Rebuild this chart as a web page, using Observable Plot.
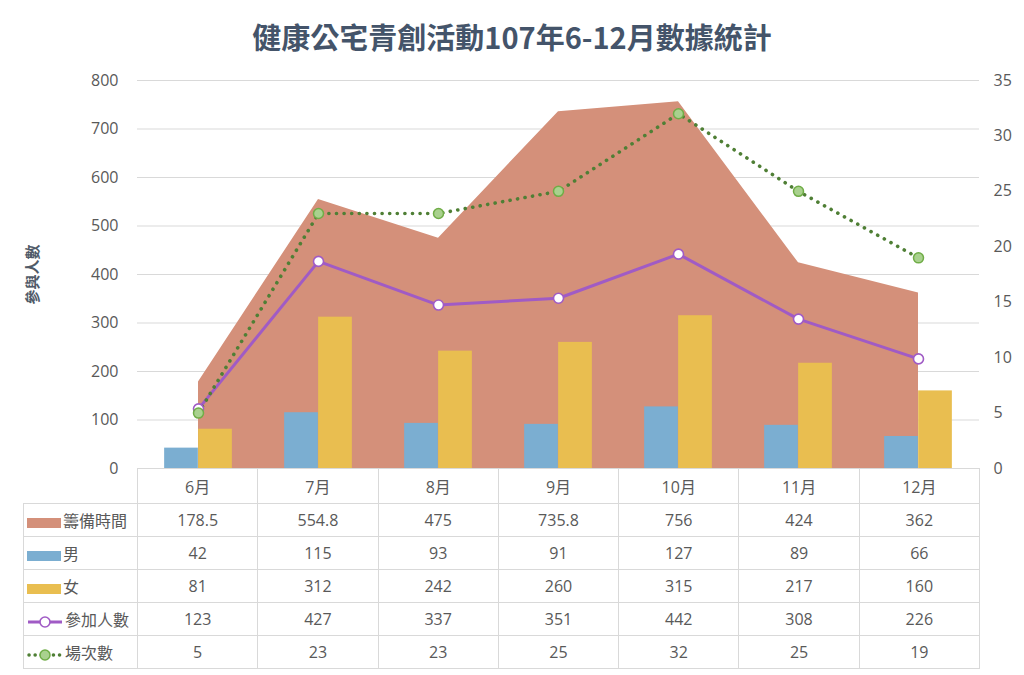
<!DOCTYPE html>
<html>
<head>
<meta charset="utf-8">
<script src="https://cdn.jsdelivr.net/npm/d3@7"></script>
<script src="https://cdn.jsdelivr.net/npm/@observablehq/plot@0.6"></script>
<style>
  html, body { margin: 0; padding: 0; background: #fff; }
  #page { position: relative; width: 1024px; height: 675px; overflow: hidden;
          font-family: "Open Sans", "Noto Sans CJK TC", sans-serif; color: #595959; }
  #title { position: absolute; top: 15px; left: 0; width: 1024px; text-align: center;
           font-family: "Noto Sans CJK TC", sans-serif; font-weight: bold; font-size: 29px; color: #44546A; }
  #chart { position: absolute; top: 62px; left: 0; }
  #tbl { position: absolute; top: 468px; left: 23px; border-collapse: collapse; table-layout: fixed;
         font-family: "Open Sans", "Noto Sans CJK TC", sans-serif; font-size: 16px; color: #595959; }
  #tbl td { border: 1px solid #d9d9d9; text-align: center; height: 32px; padding: 0; white-space: nowrap; }
  #tbl tr.head td { height: 34px; }
  #tbl td.blank { border: none; border-right: 1px solid #d9d9d9; }
  #tbl td.key { text-align: left; padding-left: 3px; font-family: "Noto Sans CJK TC", sans-serif; }
  #tbl td.key svg { vertical-align: middle; margin-right: 2px; }
</style>
</head>
<body>
<div id="page">
  <div id="title">健康公宅青創活動107年6-12月數據統計</div>
  <div id="chart"></div>
  <table id="tbl"></table>
</div>
<script>
const months = ["6月", "7月", "8月", "9月", "10月", "11月", "12月"];
const prepHours = [178.5, 554.8, 475, 735.8, 756, 424, 362];
const male = [42, 115, 93, 91, 127, 89, 66];
const female = [81, 312, 242, 260, 315, 217, 160];
const participants = [123, 427, 337, 351, 442, 308, 226];
const sessions = [5, 23, 23, 25, 32, 25, 19];
const seriesNames = ["籌備時間", "男", "女", "參加人數", "場次數"];
const leftTicks = [0, 100, 200, 300, 400, 500, 600, 700, 800];
const rightTicks = [0, 5, 10, 15, 20, 25, 30, 35];
const yLabel = "參與人數";

const leftMax = 800, rightMax = 35;
const toLeft = v => v * leftMax / rightMax;

const colors = {
  prep: "#D4907A", male: "#7BAED1", female: "#E9BE50",
  part: "#A05BC5", sess: "#4F7F35", sessFill: "#A9D18E", sessStroke: "#70AD47"
};

const data = months.map((m, i) => ({
  month: m, prep: prepHours[i], male: male[i], female: female[i],
  part: participants[i], sess: sessions[i], sessL: toLeft(sessions[i])
}));

const W = 1024, H = 420;
const mL = 137, mR = 45, mT = 18, mB = 14;
const bw = (W - mL - mR) / months.length;
const barW = 34;

const chart = Plot.plot({
  width: W, height: H,
  marginLeft: mL, marginRight: mR, marginTop: mT, marginBottom: mB,
  style: { fontFamily: "Open Sans, Noto Sans CJK TC, sans-serif", fontSize: "16px", color: "#595959", background: "transparent" },
  x: { type: "band", domain: months, padding: 0, axis: null },
  y: { domain: [0, leftMax], axis: null },
  marks: [
    Plot.gridY(leftTicks, { stroke: "#d9d9d9", strokeOpacity: 1, strokeWidth: 1 }),
    Plot.areaY(data, { x: "month", y: "prep", fill: colors.prep, curve: "linear" }),
    Plot.barY(data, { x: "month", y: "male", fill: colors.male, insetLeft: bw / 2 - barW, insetRight: bw / 2 }),
    Plot.barY(data, { x: "month", y: "female", fill: colors.female, insetLeft: bw / 2, insetRight: bw / 2 - barW }),
    Plot.lineY(data, { x: "month", y: "part", stroke: colors.part, strokeWidth: 3 }),
    Plot.lineY(data, { x: "month", y: "sessL", stroke: colors.sess, strokeWidth: 3.6, strokeDasharray: "0.1 7.5", strokeLinecap: "round" }),
    Plot.dot(data, { x: "month", y: "part", r: 5, fill: "white", stroke: colors.part, strokeWidth: 1.6 }),
    Plot.dot(data, { x: "month", y: "sessL", r: 5, fill: colors.sessFill, stroke: colors.sessStroke, strokeWidth: 1.5 }),
    Plot.axisY(leftTicks, { anchor: "left", tickSize: 0, tickPadding: 19, fontSize: 16, fill: "#595959",
      label: yLabel, labelAnchor: "center", labelOffset: 110 }),
    Plot.axisY(rightTicks.map(toLeft), { anchor: "right", tickSize: 0, tickPadding: 14, fontSize: 16, fill: "#595959",
      tickFormat: d => String(Math.round(d * rightMax / leftMax)), label: null })
  ]
});
document.getElementById("chart").appendChild(chart);

// Style the y-axis label (remove the arrow)
d3.select(chart).selectAll("text").filter(function () { return this.textContent.indexOf(yLabel) >= 0; })
  .text(yLabel)
  .attr("font-family", "Noto Sans CJK TC, sans-serif").attr("font-size", 15).attr("font-weight", "bold").attr("fill", "#505a68");

// Table below
const keys = [
  `<svg width="34" height="12"><rect x="0" y="1" width="34" height="10" fill="${colors.prep}"/></svg>`,
  `<svg width="34" height="12"><rect x="0" y="1" width="34" height="10" fill="${colors.male}"/></svg>`,
  `<svg width="34" height="12"><rect x="0" y="1" width="34" height="10" fill="${colors.female}"/></svg>`,
  `<svg width="36" height="14"><line x1="1" x2="35" y1="7" y2="7" stroke="${colors.part}" stroke-width="3"/><circle cx="18" cy="7" r="5" fill="white" stroke="${colors.part}" stroke-width="1.6"/></svg>`,
  `<svg width="36" height="14"><line x1="2" x2="35" y1="7" y2="7" stroke="${colors.sess}" stroke-width="3.5" stroke-dasharray="0.1 6" stroke-linecap="round"/><circle cx="18" cy="7" r="5" fill="${colors.sessFill}" stroke="${colors.sessStroke}" stroke-width="1.5"/></svg>`
];
const rows = [prepHours, male, female, participants, sessions];
const tbl = d3.select("#tbl");
const cg = tbl.append("colgroup");
cg.append("col").style("width", (mL - 23) + "px");
months.forEach(() => cg.append("col").style("width", bw + "px"));
const head = tbl.append("tr").attr("class", "head");
head.append("td").attr("class", "blank");
months.forEach(m => head.append("td").text(m));
rows.forEach((r, i) => {
  const tr = tbl.append("tr");
  tr.append("td").attr("class", "key").html(keys[i] + seriesNames[i]);
  r.forEach(v => tr.append("td").text(v));
});
</script>
</body>
</html>
